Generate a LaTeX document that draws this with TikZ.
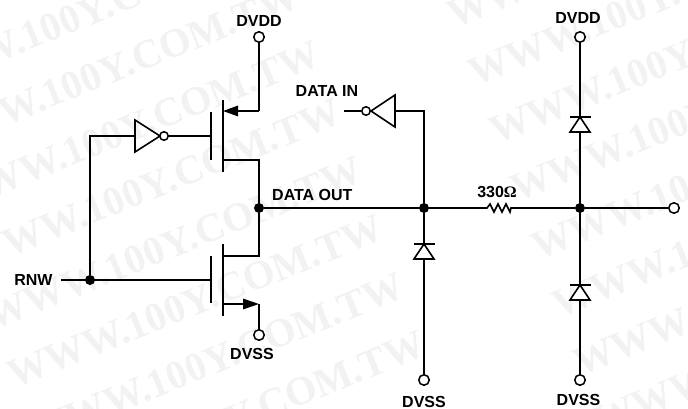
\documentclass[tikz,border=0pt]{standalone}
\usepackage{fontspec}
\setmainfont{Liberation Sans}
\newfontfamily\markfont{Liberation Serif}
\usetikzlibrary{arrows.meta}
\tikzstyle{terminal}=[circle,draw,fill=white,line width=1.5pt,minimum size=10.5pt,inner sep=0pt]
\tikzstyle{junction}=[circle,fill=black,minimum size=10pt,inner sep=0pt]
\tikzstyle{bubble}=[circle,draw,fill=white,line width=1.5pt,minimum size=8.5pt,inner sep=0pt]
\tikzstyle{wire}=[line width=1.6pt,line join=miter]
\tikzstyle{label}=[inner sep=0pt,font=\fontsize{16}{16}\selectfont\bfseries]
\tikzstyle{stamp}=[inner sep=0pt,anchor=base west,rotate=22,text=black!5,font=\fontsize{40.5}{40.5}\selectfont\markfont\bfseries]

\begin{document}
\begin{tikzpicture}[x=1pt,y=-1pt]
	\useasboundingbox (0,0) rectangle (688,409);
	% First the pale print behind the circuit
	\foreach \k in {-6,...,2} {
		\node[stamp] (markl\k) at (14+21*\k,389+58*\k) {WWW.100Y.COM.TW};
	}
	\foreach \k in {-2,...,5} {
		\node[stamp] (markr\k) at (496+21*\k,145+58*\k) {WWW.100Y.COM.TW};
	}
	% Then the terminals and junctions
	\node[terminal] (vddl) at (259,37) {};
	\node[terminal] (vssl) at (259,335) {};
	\node[terminal] (vddr) at (580,37) {};
	\node[terminal] (vssm) at (424,380) {};
	\node[terminal] (vssr) at (580,380) {};
	\node[terminal] (pad) at (674,208) {};
	\node[junction] (out) at (259,208) {};
	\node[junction] (mid) at (424,208) {};
	\node[junction] (right) at (580,208) {};
	\node[junction] (rnw) at (90,280) {};
	\node[bubble] (bubl) at (164,136) {};
	\node[bubble] (bubd) at (366,111) {};
	% Labels
	\node[label] (tvddl) at (259,21) {DVDD};
	\node[label] (tvddr) at (578,18) {DVDD};
	\node[label] (tvssl) at (252,354) {DVSS};
	\node[label] (tvssm) at (424,402) {DVSS};
	\node[label] (tvssr) at (578.5,400) {DVSS};
	\node[label] (trnw) at (33.5,280) {RNW};
	\node[label] (tin) at (327,91) {DATA IN};
	\node[label,anchor=west] (tout) at (272,195) {DATA OUT};
	\node[label] (tres) at (497,192) {330{\markfont\char"03A9}};
	% Points of the transistors, inverters and resistor
	\coordinate (rnwin) at (61,280);
	\coordinate (rnwtop) at (90,136);
	\coordinate (invl) at (135,136);
	\coordinate (gatep) at (211,136);
	\coordinate (gaten) at (211,280);
	\coordinate (chpd) at (223,160);
	\coordinate (chps) at (223,111);
	\coordinate (vddbend) at (259,111);
	\coordinate (drp) at (259,160);
	\coordinate (chnd) at (223,256);
	\coordinate (drn) at (259,256);
	\coordinate (chns) at (223,304);
	\coordinate (vssbend) at (259,304);
	\coordinate (datain) at (344,111);
	\coordinate (invd) at (395,111);
	\coordinate (midtop) at (424,111);
	\coordinate (resa) at (487,208);
	\coordinate (resb) at (511,208);
	% Transistors
	\draw[wire] (211,112) -- (211,160);
	\draw[wire] (223,100) -- (223,172);
	\draw[wire] (211,256) -- (211,303);
	\draw[wire] (223,244) -- (223,316);
	\draw[wire] (vddl) -- (vddbend);
	\draw[wire,-{Triangle[length=15pt,width=10.5pt]}] (vddbend) -- (chps);
	\draw[wire] (chpd) -- (drp) -- (out);
	\draw[wire] (chnd) -- (drn) -- (out);
	\draw[wire,-{Triangle[length=16pt,width=10.5pt]}] (chns) -- (vssbend);
	\draw[wire] (vssbend) -- (vssl);
	% Inverters
	\draw[wire] (135,120) -- (135,152) -- (160,136) -- cycle;
	\draw[wire] (395,95) -- (395,127) -- (371,111) -- cycle;
	\draw[wire] (rnwin) -- (gaten);
	\draw[wire] (rnw) -- (rnwtop) -- (invl);
	\draw[wire] (bubl) -- (gatep);
	\draw[wire] (datain) -- (bubd);
	\draw[wire] (invd) -- (midtop) -- (mid);
	% Line from output to pad, with the resistor
	\draw[wire] (out) -- (mid) -- (resa) -- ++(3,-4) -- ++(4,8) -- ++(4,-8) -- ++(4,8) -- ++(4,-8) -- ++(4,8) -- (resb) -- (right) -- (pad);
	\draw[wire] (mid) -- (vssm);
	\draw[wire] (vddr) -- (vssr);
	% Diodes
	\foreach \x/\y in {424/244,580/117,580/285} {
		\draw[line width=1.6pt,fill=white] (\x-10,\y+15) -- (\x+10,\y+15) -- (\x,\y) -- cycle;
		\draw[wire] (\x-10.5,\y) -- (\x+10.5,\y);
	}
\end{tikzpicture}
\end{document}
